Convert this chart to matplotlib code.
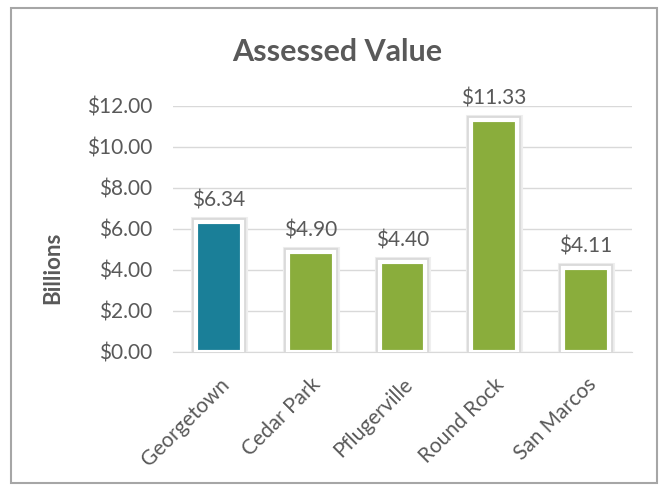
import matplotlib.pyplot as plt
import matplotlib.patheffects as pe
from matplotlib.patches import Rectangle

# Data
cities = ["Georgetown", "Cedar Park", "Pflugerville", "Round Rock", "San Marcos"]
values = [6.34, 4.90, 4.40, 11.33, 4.11]
colors = ["#1a7f98", "#8aad3c", "#8aad3c", "#8aad3c", "#8aad3c"]
y_ticks = [0, 2, 4, 6, 8, 10, 12]

plt.rcParams['font.family'] = ['Lato', 'DejaVu Sans']
text_color = "#595959"

fig = plt.figure(figsize=(6.63, 4.92), dpi=100)
ax = fig.add_axes([0.261, 0.2846, 0.692, 0.5])

bars = ax.bar(range(len(cities)), values, width=0.5, color=colors,
              edgecolor="white", linewidth=3, zorder=3)
for b in bars:
    # soft grey glow around the white border
    b.set_path_effects([pe.Stroke(linewidth=8, foreground="#efefef"),
                        pe.Stroke(linewidth=6, foreground="#dadada"),
                        pe.Normal()])

# value labels
for i, v in enumerate(values):
    ax.annotate(f"${v:.2f}", (i, v), xytext=(0, 8), textcoords="offset points",
                ha="center", va="bottom", fontsize=15, color=text_color, annotation_clip=False)

ax.set_xlim(-0.5, len(cities) - 0.5)
ax.set_ylim(0, 12)
ax.set_yticks(y_ticks)
ax.set_yticklabels([f"${t:.2f}" for t in y_ticks], fontsize=15, color=text_color)
ax.set_xticks(range(len(cities)))
ax.set_xticklabels(cities, rotation=45, ha="right", rotation_mode="anchor",
                   fontsize=15, color=text_color)
ax.tick_params(axis="both", length=0)
ax.tick_params(axis="y", pad=15)
ax.tick_params(axis="x", pad=16)

ax.grid(axis="y", color="#d9d9d9", linewidth=1, zorder=0)
ax.set_axisbelow(True)
for s in ["top", "right", "left"]:
    ax.spines[s].set_visible(False)
ax.spines["bottom"].set_color("#d9d9d9")

fig.text(0.08, 0.455, "Billions", rotation=90, ha="center", va="center",
         fontsize=16, fontweight="bold", color=text_color)
fig.text(0.508, 0.894, "Assessed Value", ha="center", va="center",
         fontsize=22, fontweight="bold", color=text_color)

# outer chart frame
fig.patches.append(Rectangle((0.016, 0.018), 0.975, 0.966, transform=fig.transFigure,
                             fill=False, edgecolor="#a6a6a6", linewidth=1.5))

fig.savefig("out.png", dpi=100, facecolor="white")
